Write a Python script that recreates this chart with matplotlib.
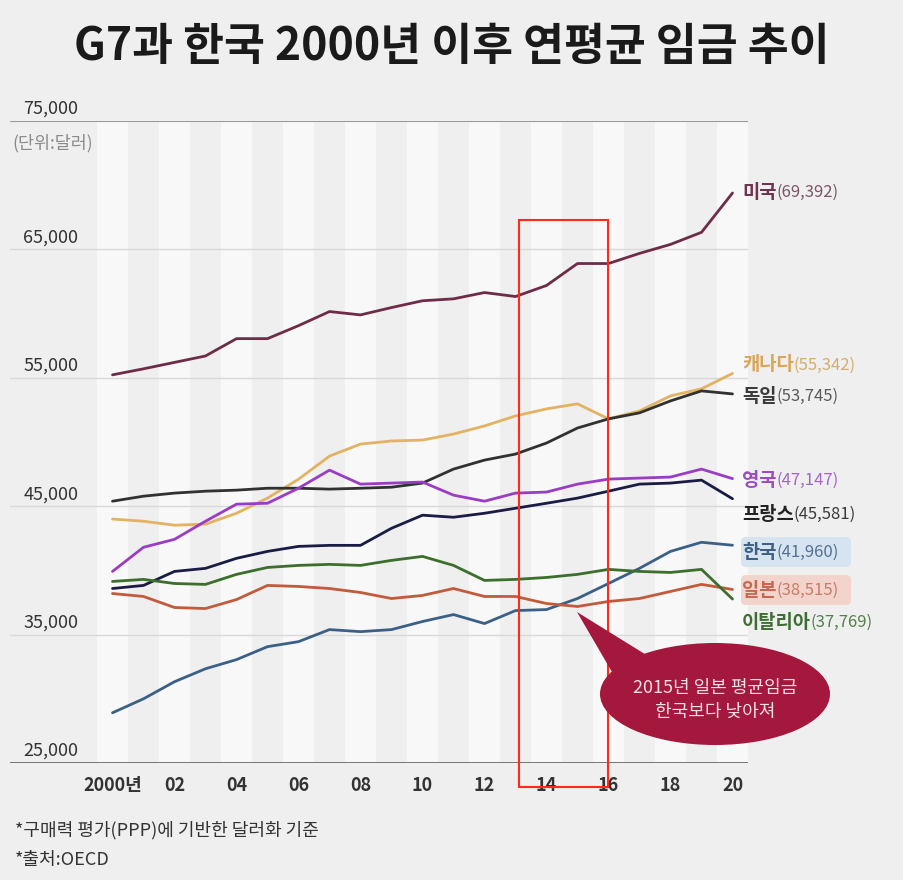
import matplotlib.pyplot as plt
from matplotlib.patches import Ellipse, Polygon, Rectangle, FancyBboxPatch

plt.rcParams['font.family'] = ['Noto Sans CJK KR', 'DejaVu Sans']

# 연도 / 국가별 연평균 임금 (단위: 달러, 그림에서 읽은 값)
years = list(range(2000, 2021))
usa = [55230, 55700, 56200, 56700, 58050, 58050, 59060, 60160, 59900, 60470, 61000,
       61150, 61640, 61330, 62190, 63900, 63900, 64690, 65390, 66330, 69392]
canada = [44000, 43830, 43520, 43600, 44450, 45630, 47100, 48900, 49840, 50080, 50150,
          50620, 51250, 52030, 52580, 52970, 51800, 52420, 53590, 54140, 55342]
germany = [45390, 45780, 46020, 46170, 46250, 46400, 46400, 46330, 46400, 46480, 46800,
           47890, 48590, 49060, 49920, 51090, 51800, 52270, 53200, 53980, 53745]
uk = [39920, 41800, 42420, 43830, 45160, 45230, 46400, 47810, 46720, 46800, 46880,
      45860, 45390, 46020, 46100, 46720, 47110, 47190, 47270, 47890, 47147]
france = [38590, 38830, 39920, 40160, 40940, 41480, 41870, 41950, 41950, 43280, 44300,
          44140, 44450, 44840, 45230, 45630, 46170, 46720, 46800, 47030, 45581]
korea = [28910, 30000, 31330, 32340, 33050, 34060, 34450, 35390, 35230, 35390, 36020,
         36560, 35860, 36870, 36950, 37810, 38980, 40160, 41480, 42190, 41960]
italy = [39140, 39300, 38980, 38910, 39690, 40230, 40390, 40470, 40390, 40780, 41090,
         40390, 39220, 39300, 39450, 39690, 40080, 39920, 39840, 40080, 37769]
japan = [38200, 37970, 37110, 37030, 37730, 38830, 38750, 38590, 38280, 37810, 38050,
         38590, 37970, 37970, 37420, 37190, 37580, 37810, 38360, 38910, 38515]

names = ['미국', '캐나다', '독일', '영국', '프랑스', '한국', '일본', '이탈리아']
series = dict(zip(names, [usa, canada, germany, uk, france, korea, japan, italy]))
line_colors = {'미국': '#6e2c48', '캐나다': '#e3b262', '독일': '#2f322f', '영국': '#9b3cc4',
               '프랑스': '#1b1c45', '한국': '#3b6088', '일본': '#c25a3c', '이탈리아': '#3c6e2c'}
name_colors = {'미국': '#6e3350', '캐나다': '#d9a656', '독일': '#3a3a3a', '영국': '#9a4cc0',
               '프랑스': '#222222', '한국': '#3f5f85', '일본': '#c86650', '이탈리아': '#3e6e33'}
num_colors = {'미국': '#7d5468', '캐나다': '#d6ad6c', '독일': '#5a5a5a', '영국': '#a265c2',
              '프랑스': '#3a3a3a', '한국': '#55708f', '일본': '#c97a68', '이탈리아': '#557f4a'}
label_y = {'미국': 192, '캐나다': 365, '독일': 396, '영국': 480, '프랑스': 514,
           '한국': 552, '일본': 590, '이탈리아': 622}

yticks = [25000, 35000, 45000, 55000, 65000, 75000]
xtick_years = list(range(2000, 2021, 2))
xtick_labels = ['2000년'] + ['%02d' % (y % 100) for y in xtick_years[1:]]

bg = '#efefef'
W, H = 904, 880
fig = plt.figure(figsize=(W / 100, H / 100), dpi=100, facecolor=bg)

# 메인 차트 (왼쪽 10px ~ 748px, 위 121px ~ 아래 763px)
ax = fig.add_axes([10 / W, 1 - 763 / H, 738 / W, (763 - 121) / H])
ax.set_facecolor(bg)
ax.set_xlim(1999.5 - 87 / 31, 2020.5)
ax.set_ylim(25000, 75000)
for s in ax.spines.values():
    s.set_visible(False)

for yr in years:
    if yr % 2 == 0:
        ax.axvspan(yr - 0.5, yr + 0.5, color='#f8f8f8', lw=0, zorder=0)

for v in yticks[1:-1]:
    ax.axhline(v, color='#d9d9d9', lw=1, zorder=1)
ax.axhline(75000, color='#9a9a9a', lw=1.5, zorder=1)
ax.axhline(25000, color='#6a6a6a', lw=2, zorder=5)

for v in yticks:
    ax.annotate(f'{v:,}', xy=(0.018, v), xycoords=('axes fraction', 'data'),
                xytext=(0, 5), textcoords='offset points', va='baseline', ha='left',
                fontsize=13, color='#333333')
ax.annotate('(단위:달러)', xy=(0.003, 75000), xycoords=('axes fraction', 'data'),
            xytext=(0, -16), textcoords='offset points', va='center', ha='left',
            fontsize=12.5, color='#8a8a8a')

for name in names:
    ax.plot(years, series[name], color=line_colors[name], lw=2.0, zorder=3,
            solid_joinstyle='round', solid_capstyle='round')

ax.set_yticks([])
ax.set_xticks(xtick_years)
ax.set_xticklabels(xtick_labels, fontsize=13, color='#333333', fontweight='bold')
ax.tick_params(axis='x', length=0, pad=9)

# 오버레이 (픽셀 좌표)
ov = fig.add_axes([0, 0, 1, 1], zorder=10)
ov.set_xlim(0, W)
ov.set_ylim(H, 0)
ov.axis('off')
ov.patch.set_alpha(0)

fig.text(0.5, 1 - 47 / H, 'G7과 한국 2000년 이후 연평균 임금 추이', ha='center', va='center',
         fontsize=32, fontweight='bold', color='#1a1a1a')

# 한국/일본 라벨 배경
ov.add_patch(FancyBboxPatch((744, 540), 104, 24, boxstyle='round,pad=3,rounding_size=5',
                            fc='#d6e3f0', ec='none', zorder=1))
ov.add_patch(FancyBboxPatch((744, 578), 104, 24, boxstyle='round,pad=3,rounding_size=5',
                            fc='#f2d4cc', ec='none', zorder=1))

for name in names:
    t = ov.text(742, label_y[name], name, ha='left', va='center', fontsize=13.5,
                fontweight='bold', color=name_colors[name], zorder=2)
    ov.annotate(f'({series[name][-1]:,})', xy=(1, 0.5), xycoords=t, va='center', ha='left',
                fontsize=12, color=num_colors[name], zorder=2)

# 강조 박스
ov.add_patch(Rectangle((519, 220), 89, 567, fill=False, ec='#ff2a1a', lw=1.5, zorder=3))

# 말풍선
bubble = '#a3183c'
ov.add_patch(Polygon([(577, 612), (612, 672), (648, 656)], closed=True, fc=bubble, ec='none', zorder=4))
ov.add_patch(Ellipse((715, 694), 230, 102, fc=bubble, ec='none', zorder=4))
ov.text(715, 700, '2015년 일본 평균임금\n한국보다 낮아져', ha='center', va='center',
        fontsize=13, color='#f5dfe5', linespacing=1.45, zorder=5)

fig.text(15 / W, 1 - 830 / H, '*구매력 평가(PPP)에 기반한 달러화 기준', ha='left', va='center',
         fontsize=13, color='#333333')
fig.text(15 / W, 1 - 860 / H, '*출처:OECD', ha='left', va='center', fontsize=13, color='#333333')

fig.savefig('out.png', dpi=100, facecolor=bg)
